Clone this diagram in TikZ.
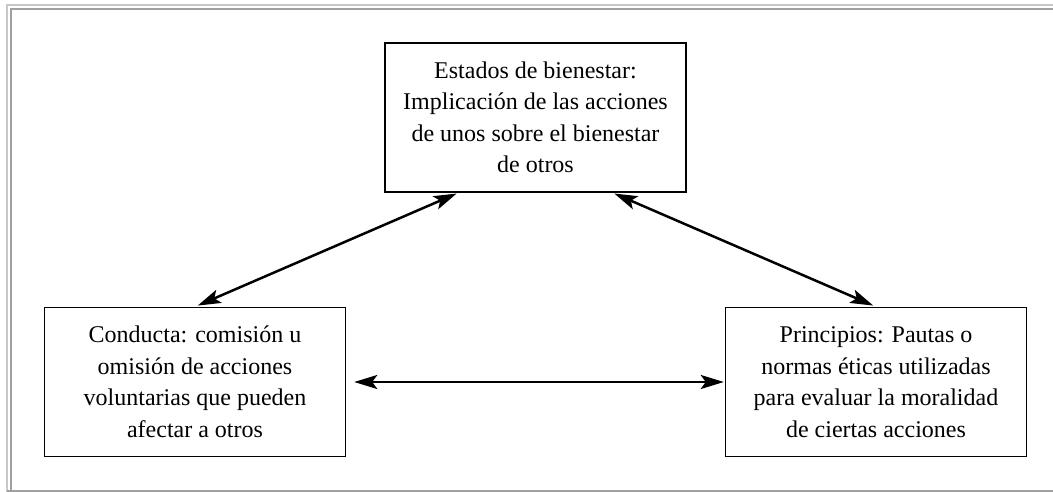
\documentclass[tikz,border=0pt]{standalone}
\usepackage{fontspec}
\setmainfont{Liberation Serif}
\usetikzlibrary{arrows.meta,calc}
\definecolor{framelight}{HTML}{C8C8C8}
\definecolor{framedark}{HTML}{A0A0A0}
\tikzset{
  box/.style={draw=black, line width=1.5pt, minimum width=301pt, minimum height=149pt,
    align=center, inner sep=0pt, font=\fontsize{24pt}{31.5pt}\selectfont},
  link/.style={line width=2.5pt, {Stealth[length=23pt,width=14pt,inset=5pt]}-{Stealth[length=23pt,width=14pt,inset=5pt]}}
}
\begin{document}
\begin{tikzpicture}[x=1pt,y=-1pt]
\useasboundingbox (0,0) rectangle (1053,492);
% frame
\draw[framelight, line width=1.5pt] (7,492) -- (7,5) -- (1053,5);
\draw[framedark, line width=2.5pt] (11,490) -- (11,9) -- (1053,9);
\draw[framedark, line width=2pt] (7,490.5) -- (1053,490.5);
% nodes
\node[box] (est) at (535.5,117.5) {Estados de bienestar:\\Implicación de las acciones\\de unos sobre el bienestar\\de otros};
\node[box] (cond) at (195,382) {Conducta: comisión u\\omisión de acciones\\voluntarias que pueden\\afectar a otros};
\node[box] (prin) at (876,382) {Principios: Pautas o\\normas éticas utilizadas\\para evaluar la moralidad\\de ciertas acciones};
% connectors
\draw[link, shorten <=3pt, shorten >=2pt] (cond.north) -- ($(est.south)+(-77,0)$);
\draw[link, shorten <=2pt, shorten >=3pt] ($(est.south)+(77,0)$) -- (prin.north);
\draw[link, shorten <=8pt, shorten >=1pt] (cond.east) -- (prin.west);
\end{tikzpicture}
\end{document}
